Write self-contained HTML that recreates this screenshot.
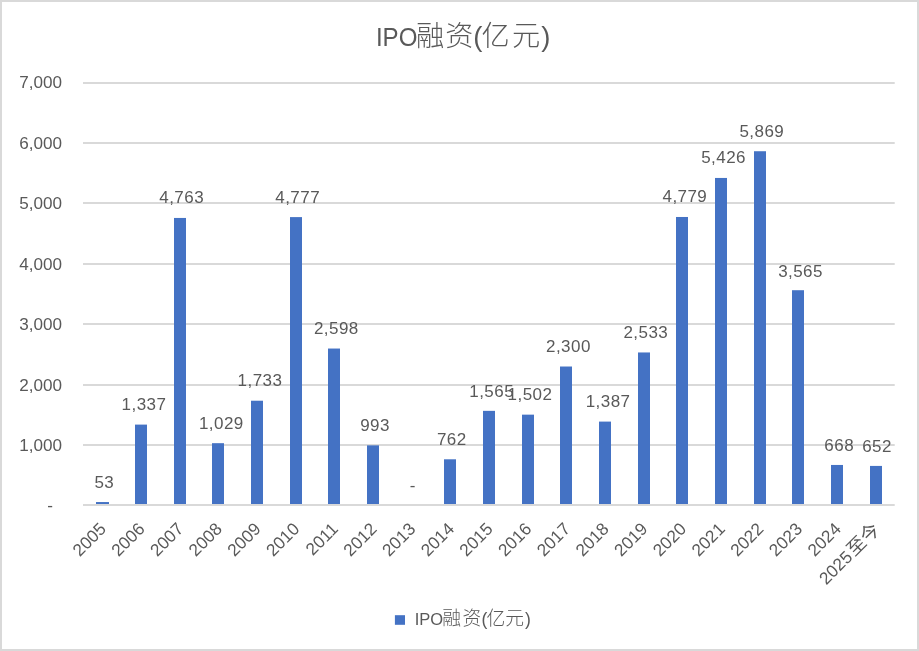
<!DOCTYPE html>
<html lang="zh"><head><meta charset="utf-8"><title>IPO融资(亿元)</title>
<style>
html,body{margin:0;padding:0;background:#fff;}
body{width:919px;height:651px;overflow:hidden;}
svg{display:block;}
text{font-family:"Liberation Sans","Noto Sans CJK SC",sans-serif;fill:#595959;}
.ax{font-size:17.10px;}
.dl{font-size:17.00px;letter-spacing:0.45px;}
.cat{font-size:17.33px;}
.leg{font-size:16.5px;}
</style></head><body>
<svg width="919" height="651" viewBox="0 0 919 651">
<rect x="0" y="0" width="919" height="651" fill="#fff"/>
<rect x="1" y="1" width="917" height="649" fill="none" stroke="#D9D9D9" stroke-width="2"/>
<rect x="83.0" y="444" width="811.7" height="2" fill="#D9D9D9"/>
<rect x="83.0" y="384" width="811.7" height="2" fill="#D9D9D9"/>
<rect x="83.0" y="323" width="811.7" height="2" fill="#D9D9D9"/>
<rect x="83.0" y="263" width="811.7" height="2" fill="#D9D9D9"/>
<rect x="83.0" y="202" width="811.7" height="2" fill="#D9D9D9"/>
<rect x="83.0" y="142" width="811.7" height="2" fill="#D9D9D9"/>
<rect x="83.0" y="82" width="811.7" height="2" fill="#D9D9D9"/>
<text class="ax" x="62" y="451.10" text-anchor="end">1,000</text>
<text class="ax" x="62" y="390.70" text-anchor="end">2,000</text>
<text class="ax" x="62" y="330.30" text-anchor="end">3,000</text>
<text class="ax" x="62" y="269.80" text-anchor="end">4,000</text>
<text class="ax" x="62" y="209.40" text-anchor="end">5,000</text>
<text class="ax" x="62" y="149.00" text-anchor="end">6,000</text>
<text class="ax" x="62" y="87.90" text-anchor="end">7,000</text>
<text class="ax" x="53" y="510.60" text-anchor="end">-</text>
<rect x="96" y="502.05" width="13" height="2.95" fill="#4472C4"/>
<rect x="135" y="424.60" width="12" height="80.40" fill="#4472C4"/>
<rect x="174" y="217.95" width="12" height="287.05" fill="#4472C4"/>
<rect x="212" y="443.18" width="12" height="61.82" fill="#4472C4"/>
<rect x="251" y="400.72" width="12" height="104.28" fill="#4472C4"/>
<rect x="290" y="217.10" width="12" height="287.90" fill="#4472C4"/>
<rect x="328" y="348.54" width="12" height="156.46" fill="#4472C4"/>
<rect x="367" y="445.35" width="12" height="59.65" fill="#4472C4"/>
<rect x="444" y="459.29" width="12" height="45.71" fill="#4472C4"/>
<rect x="483" y="410.85" width="12" height="94.15" fill="#4472C4"/>
<rect x="522" y="414.65" width="12" height="90.35" fill="#4472C4"/>
<rect x="560" y="366.51" width="12" height="138.49" fill="#4472C4"/>
<rect x="599" y="421.59" width="12" height="83.41" fill="#4472C4"/>
<rect x="638" y="352.46" width="12" height="152.54" fill="#4472C4"/>
<rect x="676" y="216.98" width="12" height="288.02" fill="#4472C4"/>
<rect x="715" y="177.95" width="12" height="327.05" fill="#4472C4"/>
<rect x="754" y="151.23" width="12" height="353.77" fill="#4472C4"/>
<rect x="792" y="290.21" width="12" height="214.79" fill="#4472C4"/>
<rect x="831" y="464.96" width="12" height="40.04" fill="#4472C4"/>
<rect x="870" y="465.92" width="12" height="39.08" fill="#4472C4"/>
<rect x="83.0" y="504" width="811.7" height="2" fill="#D9D9D9"/>
<text class="dl" x="104.29" y="487.60" text-anchor="middle">53</text>
<text class="dl" x="143.97" y="410.18" text-anchor="middle">1,337</text>
<text class="dl" x="181.65" y="202.69" text-anchor="middle">4,763</text>
<text class="dl" x="221.33" y="428.75" text-anchor="middle">1,029</text>
<text class="dl" x="260.01" y="386.30" text-anchor="middle">1,733</text>
<text class="dl" x="297.69" y="202.75" text-anchor="middle">4,777</text>
<text class="dl" x="336.37" y="334.14" text-anchor="middle">2,598</text>
<text class="dl" x="375.05" y="430.92" text-anchor="middle">993</text>
<text class="dl" x="412.93" y="491.00" text-anchor="middle">-</text>
<text class="dl" x="451.81" y="444.85" text-anchor="middle">762</text>
<text class="dl" x="491.69" y="397.23" text-anchor="middle">1,565</text>
<text class="dl" x="529.97" y="400.23" text-anchor="middle">1,502</text>
<text class="dl" x="568.45" y="352.11" text-anchor="middle">2,300</text>
<text class="dl" x="608.13" y="407.16" text-anchor="middle">1,387</text>
<text class="dl" x="645.81" y="338.06" text-anchor="middle">2,533</text>
<text class="dl" x="684.89" y="201.93" text-anchor="middle">4,779</text>
<text class="dl" x="723.57" y="162.91" text-anchor="middle">5,426</text>
<text class="dl" x="761.85" y="136.90" text-anchor="middle">5,869</text>
<text class="dl" x="800.53" y="276.53" text-anchor="middle">3,565</text>
<text class="dl" x="839.21" y="450.52" text-anchor="middle">668</text>
<text class="dl" x="877.09" y="452.48" text-anchor="middle">652</text>
<text class="cat" transform="translate(107.09 530.00) rotate(-45)" text-anchor="end">2005</text>
<text class="cat" transform="translate(145.77 530.00) rotate(-45)" text-anchor="end">2006</text>
<text class="cat" transform="translate(184.45 530.00) rotate(-45)" text-anchor="end">2007</text>
<text class="cat" transform="translate(223.13 530.00) rotate(-45)" text-anchor="end">2008</text>
<text class="cat" transform="translate(261.81 530.00) rotate(-45)" text-anchor="end">2009</text>
<text class="cat" transform="translate(300.49 530.00) rotate(-45)" text-anchor="end">2010</text>
<text class="cat" transform="translate(339.17 530.00) rotate(-45)" text-anchor="end">2011</text>
<text class="cat" transform="translate(377.85 530.00) rotate(-45)" text-anchor="end">2012</text>
<text class="cat" transform="translate(416.53 530.00) rotate(-45)" text-anchor="end">2013</text>
<text class="cat" transform="translate(455.21 530.00) rotate(-45)" text-anchor="end">2014</text>
<text class="cat" transform="translate(493.89 530.00) rotate(-45)" text-anchor="end">2015</text>
<text class="cat" transform="translate(532.57 530.00) rotate(-45)" text-anchor="end">2016</text>
<text class="cat" transform="translate(571.25 530.00) rotate(-45)" text-anchor="end">2017</text>
<text class="cat" transform="translate(609.93 530.00) rotate(-45)" text-anchor="end">2018</text>
<text class="cat" transform="translate(648.61 530.00) rotate(-45)" text-anchor="end">2019</text>
<text class="cat" transform="translate(687.29 530.00) rotate(-45)" text-anchor="end">2020</text>
<text class="cat" transform="translate(725.97 530.00) rotate(-45)" text-anchor="end">2021</text>
<text class="cat" transform="translate(764.65 530.00) rotate(-45)" text-anchor="end">2022</text>
<text class="cat" transform="translate(803.33 530.00) rotate(-45)" text-anchor="end">2023</text>
<text class="cat" transform="translate(842.01 530.00) rotate(-45)" text-anchor="end">2024</text>
<text class="cat" transform="translate(880.89 530.80) rotate(-45)" text-anchor="end">2025<tspan font-size="18.6px" dx="1.6">至今</tspan></text>
<text y="46.3"><tspan font-size="25px" x="375.9" textLength="41.5" lengthAdjust="spacingAndGlyphs">IPO</tspan><tspan font-weight="300" font-size="28.2px" x="415.9 445.3">融资</tspan><tspan font-size="27.5px" x="473.2" dy="-0.8">(</tspan><tspan font-weight="300" font-size="28.2px" x="481.5 511.9" dy="0.8">亿元</tspan><tspan font-size="27.5px" x="541.2" dy="-0.8">)</tspan></text>
<rect x="394.9" y="615.2" width="10.1" height="9.6" fill="#4472C4"/>
<text class="leg" y="625.2"><tspan x="414.7">IPO</tspan><tspan font-weight="300" font-size="18.8px" x="442.2 462.5">融资</tspan><tspan font-size="17.6px" x="481.6" dy="-0.3">(</tspan><tspan font-weight="300" font-size="18.8px" x="486.6 505.3" dy="0.3">亿元</tspan><tspan font-size="17.6px" x="525.1" dy="-0.3">)</tspan></text>
</svg></body></html>
